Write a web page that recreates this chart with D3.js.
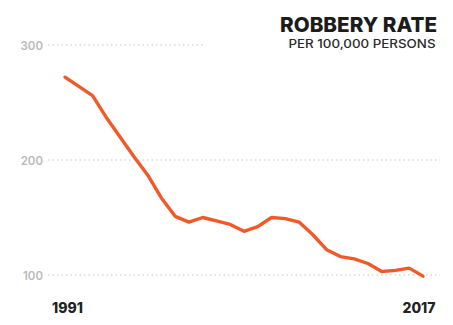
<!DOCTYPE html>
<html>
<head>
<meta charset="utf-8">
<script src="https://cdn.jsdelivr.net/npm/d3@7"></script>
<style>
  html, body { margin: 0; padding: 0; background: #fff; }
  svg { display: block; }
</style>
</head>
<body>
<svg id="chart" width="453" height="325"></svg>
<script>
// Robbery rate per 100,000 persons, 1991–2017
const years = d3.range(1991, 2018);
const rates = [272, 264, 256, 237, 220, 203, 187, 167, 151, 146, 150, 147, 144, 138, 142,
               150, 149, 146, 135, 122, 116, 114, 110, 103, 104, 106, 99];
const yTicks = [100, 200, 300];
const xTickLabels = ["1991", "2017"];
const titleText = "ROBBERY RATE";
const subtitleText = "PER 100,000 PERSONS";

const svg = d3.select("#chart");
const font = "Inter, 'Open Sans', sans-serif";

const x = d3.scaleLinear().domain([1991, 2017]).range([65, 423]);
const y = d3.scaleLinear().domain([100, 300]).range([275, 45]);

// dotted horizontal gridlines; the top one stops short of the title block
const grid = svg.append("g");
grid.selectAll("line")
  .data(yTicks)
  .join("line")
  .attr("x1", 48)
  .attr("x2", d => d === 300 ? 204 : 440)
  .attr("y1", d => y(d))
  .attr("y2", d => y(d))
  .attr("stroke", "#c8c8c8")
  .attr("stroke-width", 1.2)
  .attr("stroke-dasharray", "1.5,3");

// y axis labels
const yAxis = d3.axisLeft(y).tickValues(yTicks).tickSize(0).tickPadding(0);
const yg = svg.append("g").attr("transform", "translate(43,0)").call(yAxis);
yg.select(".domain").remove();
yg.selectAll("text")
  .attr("font-family", font)
  .attr("font-size", 11.5)
  .attr("font-weight", 600)
  .attr("fill", "#b9b9b9")
  .attr("dy", "0.36em");

// x labels at the ends of the range
const xg = svg.append("g");
xg.selectAll("text")
  .data(xTickLabels)
  .join("text")
  .attr("x", (d, i) => i === 0 ? 52 : 435.5)
  .attr("y", 312.5)
  .attr("text-anchor", (d, i) => i === 0 ? "start" : "end")
  .attr("font-family", font)
  .attr("font-size", 14)
  .attr("font-weight", 800)
  .attr("fill", "#222")
  .text(d => d);

// rate line
const line = d3.line()
  .x((d, i) => x(years[i]))
  .y(d => y(d))
  .curve(d3.curveLinear);

svg.append("path")
  .datum(rates)
  .attr("d", line)
  .attr("fill", "none")
  .attr("stroke", "#f05a28")
  .attr("stroke-width", 3.4)
  .attr("stroke-linejoin", "round")
  .attr("stroke-linecap", "round");

// title block
svg.append("text")
  .attr("x", 437)
  .attr("y", 31.5)
  .attr("text-anchor", "end")
  .attr("font-family", font)
  .attr("font-size", 20.5)
  .attr("font-weight", 800)
  .attr("fill", "#1c1c1c")
  .attr("textLength", 157)
  .attr("lengthAdjust", "spacingAndGlyphs")
  .text(titleText);

svg.append("text")
  .attr("x", 435.5)
  .attr("y", 47.5)
  .attr("text-anchor", "end")
  .attr("font-family", font)
  .attr("font-size", 11.5)
  .attr("font-weight", 500)
  .attr("fill", "#2a2a2a")
  .attr("textLength", 147)
  .attr("lengthAdjust", "spacingAndGlyphs")
  .text(subtitleText);
</script>
</body>
</html>
